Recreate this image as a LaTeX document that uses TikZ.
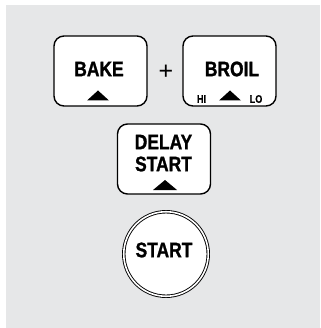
\documentclass[tikz,border=0pt]{standalone}
\usepackage{fontspec}
\newfontfamily\keyfont{Liberation Sans Bold}[FakeStretch=0.83, FakeBold=1.2, Scale=2.1]
\newfontfamily\tinyfont{Liberation Sans Bold}[FakeStretch=0.83, FakeBold=0.6, Scale=1.1]
\newfontfamily\plusfont{Liberation Sans}[Scale=2.5]
\definecolor{panel}{HTML}{E6E7E8}

\begin{document}
\begin{tikzpicture}[x = 1pt, y = -1pt,
		keybox/.style = {draw, line width = 1.4pt, rounded corners = 10pt, fill = white, minimum width = 93pt, minimum height = 70pt, inner sep = 0pt},
		keytext/.style = {font = \keyfont, inner sep = 0pt},
		tinytext/.style = {font = \tinyfont, inner sep = 0pt}]
		\useasboundingbox (0, 0) rectangle (320, 328);
		\fill[panel] (6, 5) rectangle (320, 328);
		% Keys
		\node[keybox] (bakekey) at (100.5, 71) {};
		\node[keybox] (broilkey) at (229.5, 71) {};
		\node[keybox] (delaykey) at (164, 159) {};
		\node[circle, draw, double, line width = 0.9pt, double distance = 1.6pt, fill = white, minimum size = 84.5pt, inner sep = 0pt] (startkey) at (166, 254) {};
		% Arrows
		\fill (87, 100.5) -- (109, 100.5) -- (98, 90.5) -- cycle;
		\fill (219, 100.5) -- (241, 100.5) -- (230, 90.5) -- cycle;
		\fill (153, 190) -- (177, 190) -- (165, 180) -- cycle;
		% Labels
		\node[keytext] (bake) at (99, 69) {BAKE};
		\node[font = \plusfont, inner sep = 0pt] (plus) at (166, 72) {+};
		\node[keytext] (broil) at (232, 69) {BROIL};
		\node[tinytext] (hi) at (201.5, 99) {HI};
		\node[tinytext] (lo) at (256, 99) {LO};
		\node[keytext] (delay) at (163.5, 142) {DELAY};
		\node[keytext] (delaystart) at (163.5, 164) {START};
		\node[keytext] (start) at (164, 250) {START};
	\end{tikzpicture}
\end{document}
